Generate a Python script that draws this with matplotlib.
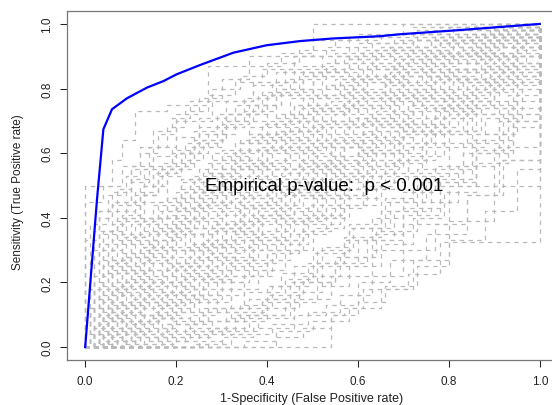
import matplotlib
matplotlib.use("Agg")
import matplotlib.pyplot as plt

plt.rcParams['font.family'] = ['Liberation Sans', 'DejaVu Sans']

# observed ROC curve (blue)
roc_fpr = [0, 0.026, 0.040, 0.059, 0.092, 0.136, 0.172, 0.201, 0.253, 0.326,
           0.399, 0.473, 0.545, 0.648, 0.692, 0.824, 1.0]
roc_tpr = [0, 0.457, 0.674, 0.736, 0.770, 0.803, 0.823, 0.844, 0.873, 0.911,
           0.934, 0.947, 0.955, 0.962, 0.968, 0.981, 1.0]

# permuted ROC curves (gray, dashed) - corner points
perm_fpr = [
    [0, 0, 0.06, 0.08, 0.11, 0.18, 0.27, 0.36, 0.5, 1.0],
    [0, 0, 0.03, 0.06, 0.1, 0.15, 0.2, 0.28, 0.37, 0.46, 0.58, 0.7, 1.0],
    [0, 0.02, 0.05, 0.09, 0.13, 0.19, 0.25, 0.33, 0.42, 0.55, 0.68, 0.82, 1.0],
    [0, 0, 0.04, 0.08, 0.12, 0.16, 0.22, 0.3, 0.4, 0.52, 0.64, 0.78, 0.9, 1.0],
    [0, 0.01, 0.06, 0.1, 0.15, 0.21, 0.28, 0.36, 0.45, 0.56, 0.69, 0.83, 1.0],
    [0, 0.05, 0.07, 0.12, 0.17, 0.24, 0.31, 0.39, 0.48, 0.6, 0.72, 0.85, 0.95, 1.0],
    [0, 0.03, 0.08, 0.14, 0.2, 0.26, 0.34, 0.42, 0.5, 0.62, 0.74, 0.88, 1.0],
    [0, 0.02, 0.06, 0.11, 0.16, 0.23, 0.3, 0.38, 0.47, 0.57, 0.7, 0.8, 0.93, 1.0],
    [0, 0.06, 0.1, 0.15, 0.22, 0.29, 0.37, 0.45, 0.54, 0.63, 0.73, 0.84, 0.94, 1.0],
    [0, 0.04, 0.09, 0.14, 0.2, 0.27, 0.33, 0.41, 0.5, 0.59, 0.68, 0.78, 0.89, 1.0],
    [0, 0.07, 0.12, 0.18, 0.24, 0.31, 0.39, 0.47, 0.55, 0.65, 0.75, 0.86, 1.0],
    [0, 0.05, 0.11, 0.17, 0.23, 0.3, 0.38, 0.46, 0.56, 0.66, 0.77, 0.9, 1.0],
    [0, 0.08, 0.13, 0.19, 0.26, 0.34, 0.41, 0.49, 0.58, 0.67, 0.76, 0.87, 0.97, 1.0],
    [0, 0.1, 0.15, 0.21, 0.28, 0.35, 0.43, 0.52, 0.6, 0.7, 0.81, 0.92, 1.0],
    [0, 0.06, 0.1, 0.16, 0.25, 0.32, 0.4, 0.48, 0.57, 0.66, 0.75, 0.85, 0.95, 1.0],
    [0, 0.03, 0.12, 0.19, 0.25, 0.33, 0.42, 0.5, 0.6, 0.69, 0.79, 0.88, 1.0],
    [0, 0.09, 0.14, 0.2, 0.27, 0.36, 0.44, 0.53, 0.62, 0.71, 0.8, 0.9, 1.0],
    [0, 0.07, 0.16, 0.22, 0.29, 0.37, 0.46, 0.54, 0.63, 0.72, 0.83, 0.93, 1.0],
    [0, 0.12, 0.18, 0.24, 0.31, 0.38, 0.47, 0.55, 0.64, 0.74, 0.84, 0.95, 1.0],
    [0, 0.05, 0.13, 0.2, 0.28, 0.35, 0.44, 0.53, 0.61, 0.71, 0.82, 0.91, 1.0],
    [0, 0.1, 0.17, 0.23, 0.3, 0.4, 0.49, 0.58, 0.68, 0.77, 0.86, 0.96, 1.0],
    [0, 0.04, 0.08, 0.17, 0.26, 0.34, 0.43, 0.51, 0.61, 0.72, 0.81, 0.9, 1.0],
    [0, 0.11, 0.19, 0.26, 0.33, 0.42, 0.51, 0.6, 0.7, 0.79, 0.88, 0.97, 1.0],
    [0, 0.13, 0.2, 0.27, 0.35, 0.45, 0.53, 0.62, 0.71, 0.8, 0.9, 1.0],
    [0, 0.54, 0.57, 0.61, 0.71, 0.78, 1.0],
    [0, 0.2, 0.3, 0.38, 0.46, 0.54, 0.63, 0.7, 0.8, 0.9, 1.0],
    [0, 0.15, 0.25, 0.35, 0.45, 0.52, 0.6, 0.68, 0.76, 0.85, 0.94, 1.0],
    [0, 0.25, 0.33, 0.4, 0.47, 0.55, 0.64, 0.73, 0.82, 0.91, 1.0],
    [0, 0.3, 0.37, 0.46, 0.53, 0.6, 0.67, 0.75, 0.84, 0.92, 1.0],
    [0, 0.18, 0.27, 0.36, 0.44, 0.5, 0.58, 0.66, 0.73, 0.86, 0.95, 1.0],
    [0, 0.35, 0.42, 0.5, 0.58, 0.65, 0.72, 0.8, 0.9, 1.0],
    [0, 0.1, 0.22, 0.31, 0.41, 0.49, 0.57, 0.65, 0.74, 0.83, 0.92, 1.0],
    [0, 0.02, 0.07, 0.13, 0.18, 0.24, 0.32, 0.4, 0.49, 0.6, 0.7, 0.82, 0.92, 1.0],
    [0, 0.08, 0.14, 0.2, 0.26, 0.33, 0.41, 0.5, 0.59, 0.68, 0.78, 0.88, 1.0],
    [0, 0.05, 0.1, 0.17, 0.23, 0.3, 0.39, 0.48, 0.57, 0.67, 0.77, 0.86, 0.95, 1.0],
    [0, 0.14, 0.21, 0.29, 0.37, 0.44, 0.52, 0.61, 0.7, 0.79, 0.89, 1.0],
    [0, 0.03, 0.09, 0.15, 0.22, 0.29, 0.36, 0.44, 0.52, 0.61, 0.71, 0.81, 0.92, 1.0],
    [0, 0.09, 0.18, 0.25, 0.32, 0.4, 0.48, 0.56, 0.65, 0.74, 0.84, 0.94, 1.0],
    [0, 0.06, 0.12, 0.2, 0.3, 0.39, 0.47, 0.57, 0.66, 0.76, 0.87, 0.97, 1.0],
    [0, 0.16, 0.24, 0.32, 0.4, 0.48, 0.57, 0.66, 0.75, 0.85, 0.95, 1.0],
    [0, 0.02, 0.04, 0.07, 0.1, 0.13, 0.17, 0.21, 0.26, 0.31, 0.37, 0.44, 0.52, 0.6, 0.7, 0.8, 0.9, 1.0],
    [0, 0.03, 0.06, 0.09, 0.12, 0.16, 0.2, 0.25, 0.3, 0.36, 0.43, 0.5, 0.58, 0.67, 0.76, 0.86, 1.0],
    [0, 0.01, 0.05, 0.08, 0.12, 0.15, 0.19, 0.24, 0.29, 0.35, 0.41, 0.48, 0.55, 0.63, 0.72, 0.82, 0.92, 1.0],
    [0, 0.04, 0.07, 0.11, 0.15, 0.19, 0.24, 0.29, 0.34, 0.4, 0.47, 0.54, 0.62, 0.71, 0.8, 0.9, 1.0],
    [0, 0.05, 0.09, 0.13, 0.18, 0.22, 0.27, 0.33, 0.39, 0.45, 0.52, 0.6, 0.68, 0.77, 0.86, 0.95, 1.0],
    [0, 0.02, 0.05, 0.09, 0.14, 0.18, 0.23, 0.28, 0.34, 0.4, 0.46, 0.53, 0.61, 0.69, 0.78, 0.88, 1.0],
    [0, 0.06, 0.1, 0.14, 0.19, 0.24, 0.3, 0.36, 0.42, 0.49, 0.56, 0.63, 0.71, 0.79, 0.87, 0.95, 1.0],
    [0, 0.01, 0.03, 0.06, 0.09, 0.13, 0.18, 0.23, 0.29, 0.35, 0.42, 0.5, 0.58, 0.67, 0.77, 0.88, 1.0],
    [0, 0.07, 0.11, 0.16, 0.21, 0.26, 0.32, 0.38, 0.45, 0.51, 0.58, 0.66, 0.74, 0.82, 0.9, 1.0],
    [0, 0.03, 0.07, 0.1, 0.14, 0.18, 0.22, 0.27, 0.32, 0.38, 0.44, 0.51, 0.59, 0.68, 0.78, 0.89, 1.0],
    [0, 0.08, 0.12, 0.17, 0.22, 0.28, 0.34, 0.4, 0.47, 0.54, 0.61, 0.68, 0.76, 0.84, 0.92, 1.0],
    [0, 0.02, 0.06, 0.1, 0.13, 0.17, 0.21, 0.26, 0.31, 0.37, 0.43, 0.5, 0.57, 0.65, 0.74, 0.84, 0.94, 1.0],
    [0, 0.04, 0.08, 0.12, 0.16, 0.21, 0.26, 0.31, 0.37, 0.43, 0.5, 0.57, 0.65, 0.73, 0.82, 0.91, 1.0],
    [0, 0.09, 0.14, 0.19, 0.25, 0.3, 0.36, 0.43, 0.49, 0.56, 0.63, 0.7, 0.78, 0.86, 0.94, 1.0],
    [0, 0.05, 0.08, 0.12, 0.17, 0.21, 0.25, 0.3, 0.36, 0.42, 0.48, 0.55, 0.63, 0.71, 0.8, 0.9, 1.0],
    [0, 0.11, 0.16, 0.21, 0.27, 0.33, 0.39, 0.46, 0.53, 0.6, 0.67, 0.75, 0.83, 0.91, 1.0],
    [0, 0.03, 0.05, 0.08, 0.11, 0.14, 0.18, 0.22, 0.27, 0.32, 0.38, 0.45, 0.52, 0.6, 0.69, 0.79, 0.9, 1.0],
    [0, 0.14, 0.2, 0.26, 0.32, 0.38, 0.44, 0.5, 0.57, 0.64, 0.71, 0.79, 0.87, 0.95, 1.0],
    [0, 0.06, 0.1, 0.15, 0.2, 0.25, 0.31, 0.37, 0.44, 0.51, 0.58, 0.66, 0.74, 0.82, 0.91, 1.0],
    [0, 0.04, 0.09, 0.15, 0.2, 0.26, 0.31, 0.37, 0.44, 0.5, 0.57, 0.64, 0.72, 0.8, 0.89, 1.0],
    [0, 0.02, 0.04, 0.07, 0.11, 0.15, 0.2, 0.25, 0.31, 0.38, 0.45, 0.53, 0.61, 0.7, 0.8, 0.9, 1.0],
    [0, 0.1, 0.15, 0.2, 0.25, 0.31, 0.37, 0.43, 0.5, 0.57, 0.64, 0.72, 0.8, 0.88, 0.96, 1.0],
    [0, 0.07, 0.13, 0.18, 0.24, 0.3, 0.36, 0.42, 0.48, 0.55, 0.62, 0.69, 0.77, 0.85, 0.93, 1.0],
    [0, 0.01, 0.04, 0.08, 0.12, 0.16, 0.2, 0.25, 0.3, 0.36, 0.43, 0.5, 0.58, 0.67, 0.77, 0.88, 1.0],
    [0, 0.17, 0.23, 0.29, 0.35, 0.41, 0.47, 0.54, 0.61, 0.68, 0.75, 0.83, 0.91, 1.0],
    [0, 0.05, 0.1, 0.14, 0.19, 0.23, 0.28, 0.34, 0.4, 0.47, 0.54, 0.61, 0.69, 0.77, 0.86, 0.95, 1.0],
    [0, 0.03, 0.06, 0.1, 0.14, 0.19, 0.24, 0.29, 0.35, 0.41, 0.48, 0.55, 0.63, 0.72, 0.81, 0.91, 1.0],
    [0, 0.12, 0.18, 0.24, 0.29, 0.35, 0.41, 0.47, 0.54, 0.61, 0.68, 0.76, 0.84, 0.92, 1.0],
    [0, 0.22, 0.28, 0.34, 0.4, 0.46, 0.52, 0.58, 0.65, 0.72, 0.8, 0.88, 0.96, 1.0],
    [0, 0.08, 0.13, 0.18, 0.23, 0.28, 0.33, 0.39, 0.45, 0.52, 0.59, 0.66, 0.74, 0.82, 0.91, 1.0],
    [0, 0.02, 0.05, 0.11, 0.16, 0.22, 0.27, 0.33, 0.39, 0.46, 0.53, 0.6, 0.68, 0.76, 0.85, 0.94, 1.0],
    [0, 0.06, 0.11, 0.16, 0.21, 0.27, 0.33, 0.39, 0.46, 0.53, 0.6, 0.68, 0.76, 0.84, 0.93, 1.0],
    [0, 0.27, 0.33, 0.39, 0.45, 0.51, 0.57, 0.63, 0.7, 0.77, 0.85, 0.93, 1.0],
    [0, 0.09, 0.13, 0.17, 0.22, 0.27, 0.32, 0.38, 0.44, 0.5, 0.57, 0.64, 0.72, 0.8, 0.89, 1.0],
    [0, 0.04, 0.08, 0.13, 0.18, 0.24, 0.3, 0.36, 0.42, 0.49, 0.56, 0.64, 0.72, 0.81, 0.9, 1.0],
    [0, 0.19, 0.24, 0.3, 0.36, 0.42, 0.48, 0.55, 0.62, 0.69, 0.76, 0.84, 0.92, 1.0],
    [0, 0, 0.04, 0.08, 0.12, 0.15, 0.19, 0.23, 0.28, 0.34, 0.4, 0.47, 0.55, 0.65, 0.78, 1.0],
    [0, 0.01, 0.05, 0.09, 0.12, 0.16, 0.2, 0.25, 0.3, 0.36, 0.43, 0.5, 0.6, 0.72, 0.86, 1.0],
    [0, 0.03, 0.07, 0.1, 0.14, 0.18, 0.22, 0.27, 0.33, 0.39, 0.46, 0.53, 0.62, 0.73, 0.85, 1.0],
    [0, 0.02, 0.06, 0.1, 0.15, 0.2, 0.25, 0.31, 0.37, 0.44, 0.52, 0.6, 0.7, 0.8, 0.9, 1.0],
    [0, 0.04, 0.08, 0.13, 0.18, 0.24, 0.3, 0.36, 0.43, 0.5, 0.58, 0.67, 0.76, 0.86, 1.0],
    [0, 0.07, 0.11, 0.16, 0.21, 0.27, 0.33, 0.4, 0.47, 0.55, 0.63, 0.72, 0.82, 0.92, 1.0],
    [0, 0.12, 0.2, 0.28, 0.36, 0.44, 0.51, 0.58, 0.65, 0.72, 0.79, 0.86, 0.93, 1.0],
    [0, 0.06, 0.14, 0.23, 0.31, 0.39, 0.47, 0.55, 0.62, 0.7, 0.78, 0.86, 0.94, 1.0],
    [0, 0.24, 0.32, 0.41, 0.49, 0.56, 0.63, 0.7, 0.77, 0.84, 0.91, 1.0],
    [0, 0.16, 0.24, 0.32, 0.4, 0.48, 0.56, 0.63, 0.7, 0.78, 0.86, 0.94, 1.0],
    [0, 0.04, 0.11, 0.19, 0.27, 0.35, 0.43, 0.51, 0.59, 0.67, 0.75, 0.83, 0.91, 1.0],
    [0, 0.42, 0.48, 0.54, 0.6, 0.66, 0.73, 0.8, 0.88, 0.95, 1.0],
]
perm_tpr = [
    [0, 0.5, 0.58, 0.64, 0.73, 0.75, 0.87, 0.9, 1.0, 1.0],
    [0, 0.33, 0.42, 0.48, 0.56, 0.62, 0.7, 0.76, 0.82, 0.9, 0.96, 1.0, 1.0],
    [0, 0.22, 0.36, 0.45, 0.55, 0.6, 0.68, 0.75, 0.85, 0.9, 0.95, 0.98, 1.0],
    [0, 0.18, 0.3, 0.4, 0.47, 0.55, 0.63, 0.7, 0.78, 0.86, 0.92, 0.96, 1.0, 1.0],
    [0, 0.12, 0.26, 0.38, 0.44, 0.52, 0.6, 0.68, 0.77, 0.84, 0.9, 0.95, 1.0],
    [0, 0.3, 0.39, 0.5, 0.57, 0.64, 0.72, 0.79, 0.85, 0.91, 0.95, 0.97, 1.0, 1.0],
    [0, 0.08, 0.2, 0.33, 0.45, 0.54, 0.63, 0.7, 0.8, 0.87, 0.93, 0.97, 1.0],
    [0, 0.15, 0.24, 0.32, 0.42, 0.5, 0.58, 0.66, 0.74, 0.82, 0.89, 0.95, 0.99, 1.0],
    [0, 0.1, 0.18, 0.26, 0.35, 0.43, 0.52, 0.6, 0.68, 0.76, 0.84, 0.9, 0.96, 1.0],
    [0, 0.05, 0.12, 0.22, 0.3, 0.37, 0.46, 0.55, 0.63, 0.71, 0.8, 0.88, 0.94, 1.0],
    [0, 0.16, 0.22, 0.3, 0.4, 0.47, 0.55, 0.64, 0.72, 0.79, 0.86, 0.93, 1.0],
    [0, 0.02, 0.08, 0.17, 0.25, 0.33, 0.41, 0.5, 0.58, 0.67, 0.76, 0.85, 1.0],
    [0, 0.2, 0.27, 0.35, 0.42, 0.5, 0.58, 0.66, 0.74, 0.81, 0.88, 0.93, 0.97, 1.0],
    [0, 0.07, 0.14, 0.21, 0.29, 0.38, 0.47, 0.55, 0.64, 0.73, 0.82, 0.9, 1.0],
    [0, 0.27, 0.33, 0.4, 0.47, 0.56, 0.64, 0.72, 0.79, 0.86, 0.91, 0.95, 0.98, 1.0],
    [0, 0.0, 0.1, 0.19, 0.28, 0.35, 0.43, 0.52, 0.6, 0.69, 0.78, 0.87, 1.0],
    [0, 0.24, 0.3, 0.37, 0.45, 0.53, 0.61, 0.69, 0.77, 0.84, 0.9, 0.96, 1.0],
    [0, 0.04, 0.13, 0.23, 0.31, 0.4, 0.48, 0.57, 0.65, 0.74, 0.82, 0.91, 1.0],
    [0, 0.14, 0.2, 0.27, 0.36, 0.44, 0.51, 0.59, 0.68, 0.77, 0.85, 0.92, 1.0],
    [0, 0.11, 0.16, 0.24, 0.32, 0.41, 0.49, 0.58, 0.67, 0.75, 0.83, 0.9, 1.0],
    [0, 0.03, 0.09, 0.16, 0.24, 0.32, 0.4, 0.49, 0.58, 0.67, 0.76, 0.86, 1.0],
    [0, 0.09, 0.19, 0.28, 0.37, 0.46, 0.54, 0.62, 0.7, 0.78, 0.86, 0.93, 1.0],
    [0, 0.17, 0.25, 0.33, 0.39, 0.48, 0.56, 0.63, 0.71, 0.8, 0.87, 0.94, 1.0],
    [0, 0.06, 0.11, 0.2, 0.27, 0.35, 0.44, 0.53, 0.62, 0.72, 0.81, 1.0],
    [0, 0.1, 0.12, 0.18, 0.225, 0.325, 1.0],
    [0, 0.02, 0.05, 0.09, 0.15, 0.22, 0.3, 0.38, 0.5, 0.62, 1.0],
    [0, 0.0, 0.04, 0.1, 0.17, 0.25, 0.33, 0.42, 0.52, 0.64, 0.76, 1.0],
    [0, 0.05, 0.08, 0.12, 0.2, 0.28, 0.36, 0.45, 0.56, 0.7, 1.0],
    [0, 0.03, 0.06, 0.1, 0.13, 0.2, 0.27, 0.35, 0.47, 0.58, 1.0],
    [0, 0.07, 0.11, 0.15, 0.21, 0.29, 0.37, 0.46, 0.55, 0.66, 0.8, 1.0],
    [0, 0.02, 0.05, 0.08, 0.12, 0.18, 0.27, 0.39, 0.5, 1.0],
    [0, 0.03, 0.06, 0.12, 0.19, 0.26, 0.34, 0.42, 0.51, 0.6, 0.72, 1.0],
    [0, 0.06, 0.14, 0.24, 0.36, 0.44, 0.51, 0.6, 0.7, 0.78, 0.85, 0.91, 0.97, 1.0],
    [0, 0.28, 0.36, 0.43, 0.5, 0.57, 0.65, 0.74, 0.83, 0.89, 0.94, 0.98, 1.0],
    [0, 0.13, 0.21, 0.31, 0.39, 0.48, 0.55, 0.62, 0.69, 0.77, 0.83, 0.88, 0.93, 1.0],
    [0, 0.09, 0.16, 0.22, 0.3, 0.39, 0.47, 0.56, 0.66, 0.75, 0.84, 1.0],
    [0, 0.19, 0.28, 0.38, 0.46, 0.53, 0.61, 0.67, 0.75, 0.83, 0.88, 0.93, 0.96, 1.0],
    [0, 0.01, 0.07, 0.14, 0.22, 0.3, 0.38, 0.46, 0.54, 0.63, 0.72, 0.82, 1.0],
    [0, 0.32, 0.4, 0.48, 0.55, 0.62, 0.7, 0.77, 0.84, 0.9, 0.94, 0.98, 1.0],
    [0, 0.12, 0.18, 0.25, 0.33, 0.41, 0.49, 0.57, 0.66, 0.74, 0.84, 1.0],
    [0, 0.06, 0.11, 0.17, 0.22, 0.28, 0.33, 0.39, 0.45, 0.5, 0.56, 0.62, 0.68, 0.75, 0.82, 0.89, 0.95, 1.0],
    [0, 0.1, 0.16, 0.23, 0.3, 0.36, 0.42, 0.48, 0.55, 0.61, 0.67, 0.73, 0.79, 0.85, 0.9, 0.95, 1.0],
    [0, 0.04, 0.08, 0.13, 0.19, 0.24, 0.3, 0.35, 0.41, 0.47, 0.52, 0.58, 0.65, 0.72, 0.79, 0.86, 0.93, 1.0],
    [0, 0.14, 0.2, 0.26, 0.33, 0.39, 0.46, 0.52, 0.58, 0.64, 0.7, 0.76, 0.82, 0.88, 0.93, 0.97, 1.0],
    [0, 0.02, 0.07, 0.12, 0.17, 0.23, 0.29, 0.35, 0.41, 0.47, 0.54, 0.6, 0.67, 0.74, 0.82, 0.9, 1.0],
    [0, 0.2, 0.27, 0.34, 0.4, 0.46, 0.52, 0.58, 0.64, 0.7, 0.75, 0.81, 0.86, 0.9, 0.94, 0.97, 1.0],
    [0, 0.08, 0.13, 0.19, 0.25, 0.31, 0.37, 0.43, 0.5, 0.56, 0.62, 0.69, 0.76, 0.83, 0.89, 0.95, 1.0],
    [0, 0.26, 0.32, 0.38, 0.44, 0.5, 0.56, 0.62, 0.68, 0.73, 0.79, 0.84, 0.89, 0.93, 0.96, 0.99, 1.0],
    [0, 0.0, 0.05, 0.1, 0.15, 0.21, 0.27, 0.33, 0.39, 0.46, 0.53, 0.6, 0.68, 0.76, 0.85, 1.0],
    [0, 0.16, 0.23, 0.29, 0.35, 0.41, 0.48, 0.54, 0.6, 0.66, 0.72, 0.78, 0.84, 0.89, 0.94, 0.98, 1.0],
    [0, 0.12, 0.18, 0.24, 0.3, 0.36, 0.43, 0.49, 0.56, 0.63, 0.7, 0.77, 0.84, 0.9, 0.95, 1.0],
    [0, 0.01, 0.06, 0.1, 0.15, 0.2, 0.25, 0.31, 0.37, 0.43, 0.49, 0.55, 0.62, 0.69, 0.77, 0.85, 0.93, 1.0],
    [0, 0.35, 0.41, 0.47, 0.53, 0.58, 0.64, 0.7, 0.75, 0.8, 0.85, 0.89, 0.93, 0.96, 0.98, 1.0, 1.0],
    [0, 0.05, 0.09, 0.14, 0.2, 0.26, 0.32, 0.38, 0.44, 0.51, 0.58, 0.66, 0.73, 0.8, 0.88, 1.0],
    [0, 0.23, 0.29, 0.36, 0.42, 0.49, 0.55, 0.61, 0.66, 0.72, 0.78, 0.83, 0.88, 0.92, 0.95, 0.98, 1.0],
    [0, 0.1, 0.16, 0.22, 0.28, 0.34, 0.41, 0.47, 0.54, 0.61, 0.68, 0.75, 0.82, 0.9, 1.0],
    [0, 0.07, 0.12, 0.18, 0.23, 0.29, 0.34, 0.4, 0.45, 0.51, 0.57, 0.63, 0.7, 0.77, 0.84, 0.91, 0.96, 1.0],
    [0, 0.03, 0.07, 0.12, 0.18, 0.24, 0.3, 0.37, 0.44, 0.51, 0.59, 0.67, 0.75, 0.84, 1.0],
    [0, 0.18, 0.24, 0.31, 0.37, 0.44, 0.5, 0.57, 0.63, 0.69, 0.75, 0.81, 0.87, 0.92, 0.96, 1.0],
    [0, 0.03, 0.06, 0.11, 0.16, 0.22, 0.28, 0.34, 0.4, 0.47, 0.54, 0.61, 0.69, 0.77, 0.86, 1.0],
    [0, 0.3, 0.36, 0.42, 0.48, 0.54, 0.6, 0.66, 0.72, 0.78, 0.83, 0.88, 0.92, 0.95, 0.97, 0.99, 1.0],
    [0, 0.15, 0.2, 0.26, 0.32, 0.39, 0.45, 0.52, 0.59, 0.66, 0.73, 0.8, 0.86, 0.91, 0.95, 1.0],
    [0, 0.06, 0.1, 0.15, 0.21, 0.27, 0.33, 0.4, 0.46, 0.53, 0.6, 0.67, 0.74, 0.81, 0.88, 1.0],
    [0, 0.12, 0.18, 0.25, 0.31, 0.37, 0.43, 0.49, 0.55, 0.61, 0.67, 0.73, 0.79, 0.85, 0.91, 0.96, 1.0],
    [0, 0.05, 0.1, 0.16, 0.22, 0.29, 0.36, 0.43, 0.5, 0.58, 0.66, 0.74, 0.83, 1.0],
    [0, 0.09, 0.15, 0.2, 0.26, 0.32, 0.38, 0.44, 0.5, 0.57, 0.63, 0.7, 0.77, 0.84, 0.9, 0.96, 1.0],
    [0, 0.4, 0.45, 0.51, 0.56, 0.61, 0.67, 0.72, 0.77, 0.82, 0.87, 0.91, 0.94, 0.97, 0.99, 1.0, 1.0],
    [0, 0.2, 0.26, 0.32, 0.38, 0.44, 0.51, 0.57, 0.64, 0.71, 0.78, 0.85, 0.91, 0.96, 1.0],
    [0, 0.04, 0.08, 0.13, 0.19, 0.25, 0.31, 0.38, 0.45, 0.53, 0.62, 0.71, 0.82, 1.0],
    [0, 0.25, 0.31, 0.37, 0.43, 0.49, 0.56, 0.62, 0.68, 0.74, 0.8, 0.86, 0.91, 0.95, 0.98, 1.0],
    [0, 0.0, 0.04, 0.08, 0.13, 0.18, 0.24, 0.3, 0.36, 0.42, 0.49, 0.56, 0.63, 0.71, 0.79, 0.88, 1.0],
    [0, 0.33, 0.39, 0.45, 0.51, 0.57, 0.63, 0.69, 0.75, 0.81, 0.86, 0.91, 0.95, 0.97, 0.99, 1.0],
    [0, 0.06, 0.1, 0.15, 0.2, 0.26, 0.33, 0.4, 0.48, 0.56, 0.66, 0.78, 1.0],
    [0, 0.08, 0.14, 0.19, 0.25, 0.31, 0.36, 0.42, 0.49, 0.55, 0.62, 0.69, 0.76, 0.83, 0.9, 1.0],
    [0, 0.27, 0.34, 0.4, 0.46, 0.53, 0.59, 0.65, 0.71, 0.77, 0.83, 0.88, 0.92, 0.96, 0.98, 1.0],
    [0, 0.11, 0.15, 0.2, 0.26, 0.33, 0.4, 0.47, 0.55, 0.63, 0.71, 0.79, 0.87, 1.0],
    [0, 0.45, 0.5, 0.56, 0.62, 0.67, 0.71, 0.76, 0.8, 0.84, 0.88, 0.92, 0.95, 0.97, 0.99, 1.0],
    [0, 0.38, 0.47, 0.53, 0.6, 0.66, 0.72, 0.77, 0.83, 0.87, 0.91, 0.95, 0.97, 0.99, 1.0, 1.0],
    [0, 0.42, 0.49, 0.55, 0.62, 0.68, 0.73, 0.78, 0.82, 0.86, 0.9, 0.93, 0.96, 0.98, 0.99, 1.0],
    [0, 0.36, 0.44, 0.52, 0.59, 0.65, 0.71, 0.76, 0.81, 0.86, 0.9, 0.94, 0.97, 0.99, 1.0, 1.0],
    [0, 0.25, 0.35, 0.45, 0.55, 0.62, 0.69, 0.75, 0.8, 0.85, 0.9, 0.93, 0.96, 0.98, 1.0],
    [0, 0.4, 0.47, 0.54, 0.6, 0.66, 0.72, 0.78, 0.84, 0.88, 0.92, 0.95, 0.97, 0.99, 1.0],
    [0, 0.01, 0.03, 0.06, 0.1, 0.14, 0.19, 0.25, 0.32, 0.4, 0.48, 0.57, 0.68, 1.0],
    [0, 0.0, 0.02, 0.05, 0.09, 0.14, 0.2, 0.26, 0.33, 0.41, 0.5, 0.6, 0.72, 1.0],
    [0, 0.01, 0.04, 0.07, 0.11, 0.16, 0.22, 0.3, 0.38, 0.47, 0.58, 1.0],
    [0, 0.04, 0.08, 0.11, 0.16, 0.22, 0.28, 0.35, 0.43, 0.51, 0.61, 0.7, 1.0],
    [0, 0.02, 0.04, 0.08, 0.12, 0.17, 0.23, 0.3, 0.37, 0.45, 0.54, 0.63, 0.74, 1.0],
    [0, 0.03, 0.06, 0.1, 0.14, 0.19, 0.25, 0.33, 0.42, 0.55, 1.0],
]

ticks = [0.0, 0.2, 0.4, 0.6, 0.8, 1.0]
tick_labels = ["0.0", "0.2", "0.4", "0.6", "0.8", "1.0"]

fig = plt.figure(figsize=(5.52, 4.06), dpi=100)
# R-style plot region, the right edge of the box falls outside the picture
ax = fig.add_axes([67 / 552, 45 / 406, 491 / 552, 349 / 406])

for fx, ty in zip(perm_fpr, perm_tpr):
    ax.plot(fx, ty, drawstyle='steps-post', color='#bababa',
            linewidth=0.9, linestyle=(0, (3.5, 3.5)))

ax.plot(roc_fpr, roc_tpr, color='#0000ff', linewidth=1.6)

ax.text(0.525, 0.5, "Empirical p-value:  p < 0.001", fontsize=13.5,
        ha='center', va='center', color='black')

ax.set_xlim(-0.04, 1.04)
ax.set_ylim(-0.04, 1.04)
ax.set_xticks(ticks)
ax.set_xticklabels(tick_labels)
ax.set_yticks(ticks)
ax.set_yticklabels(tick_labels, rotation=90, va='center')
ax.tick_params(length=5, width=0.75, labelsize=8.5, pad=5, colors='#222222')
ax.tick_params(axis='x', pad=6)

for s in ax.spines.values():
    s.set_color('#777777')
    s.set_linewidth(0.9)

fig.text(312 / 552, 1 - 399 / 406, "1-Specificity (False Positive rate)",
         fontsize=9, ha='center', va='center', color='#222222')
fig.text(18 / 552, 1 - 192 / 406, "Sensitivity (True Positive rate)",
         fontsize=8.5, ha='center', va='center', rotation=90, color='#222222')

fig.savefig("out.png", dpi=100)
